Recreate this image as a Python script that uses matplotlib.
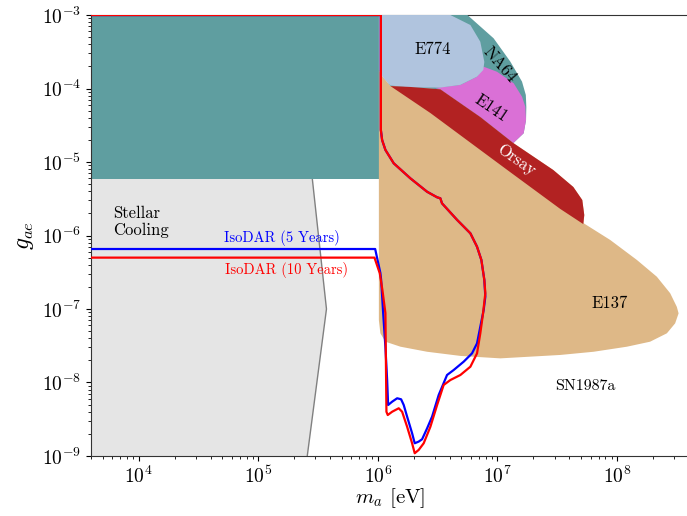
import matplotlib
matplotlib.use("Agg")
import matplotlib.pyplot as plt
from matplotlib.ticker import NullFormatter

plt.rcParams["font.family"] = "cmr10"
plt.rcParams["mathtext.fontset"] = "cm"
plt.rcParams["axes.formatter.use_mathtext"] = True

XMIN, XMAX = 4e3, 4e8
YMIN, YMAX = 1e-9, 1e-3

# ---- existing limits (axion mass in eV, coupling g_ae) ----
beamdump_m = [XMIN, 1.02e6, 1.02e6, XMIN]
beamdump_g = [5.87e-6, 5.87e-6, YMAX, YMAX]

stellar_m = [XMIN, 2.57e5, 3.72e5, 2.83e5, 2.80e5, XMIN]
stellar_g = [YMIN, YMIN, 1.0e-7, 6.0e-6, 8.0e-6, 8.0e-6]
stellar_edge_m = [2.57e5, 3.72e5, 2.83e5]
stellar_edge_g = [YMIN, 1.0e-7, 6.0e-6]

e137_m = [1.02e6, 1.10e6, 1.274e6, 1.87e6, 3.33e6, 7.19e6, 1.358e7, 2.93e7,
          4.31e7, 5.12e7, 5.32e7, 5.25e7, 8.77e7, 1.467e8, 2.15e8, 2.78e8,
          3.16e8, 3.27e8, 3.06e8, 2.61e8, 1.89e8, 1.21e8, 6.37e7, 3.35e7,
          1.057e7, 4.90e6, 2.58e6, 1.545e6, 1.157e6, 1.05e6, 1.02e6]
e137_g = [1.79e-4, 1.45e-4, 1.08e-4, 1.05e-4, 9.75e-5, 4.09e-5, 1.81e-5, 7.78e-6,
          4.57e-6, 3.04e-6, 1.90e-6, 1.47e-6, 8.69e-7, 4.64e-7, 2.75e-7, 1.64e-7,
          1.07e-7, 8.73e-8, 6.38e-8, 4.67e-8, 3.59e-8, 3.07e-8, 2.62e-8, 2.37e-8,
          2.13e-8, 2.30e-8, 2.62e-8, 3.07e-8, 3.59e-8, 4.67e-8, 7.08e-8]

na64_m = [1.02e6, 4.04e6, 5.61e6, 9.29e6, 1.282e7, 1.605e7, 1.727e7, 1.744e7,
          1.734e7, 1.656e7, 1.358e7, 7.19e6, 3.33e6, 1.274e6, 1.02e6]
na64_g = [YMAX, YMAX, YMAX, 4.82e-4, 2.32e-4, 1.24e-4, 8.16e-5, 5.60e-5,
          3.73e-5, 2.46e-5, 1.81e-5, 4.09e-5, 9.75e-5, 1.08e-4, 1.79e-4]

e141_m = [3.33e6, 7.19e6, 1.358e7, 1.656e7, 1.734e7, 1.71e7, 1.605e7, 1.366e7,
          9.92e6, 7.67e6, 6.75e6, 4.90e6, 3.0e6]
e141_g = [9.75e-5, 4.09e-5, 1.81e-5, 2.46e-5, 3.73e-5, 5.65e-5, 7.73e-5, 1.18e-4,
          1.69e-4, 1.98e-4, 1.45e-4, 1.12e-4, 1.02e-4]

e774_m = [1.02e6, 4.04e6, 5.94e6, 7.19e6, 7.77e6, 7.62e6, 6.75e6, 4.90e6,
          3.33e6, 1.87e6, 1.274e6, 1.114e6, 1.02e6]
e774_g = [YMAX, YMAX, 7.31e-4, 4.33e-4, 2.30e-4, 1.79e-4, 1.45e-4, 1.12e-4,
          1.03e-4, 1.03e-4, 1.10e-4, 1.39e-4, 1.79e-4]

orsay_m = [1.274e6, 1.87e6, 3.33e6, 7.19e6, 1.358e7, 2.93e7, 4.31e7, 5.12e7,
           5.32e7, 5.22e7, 3.35e7, 1.21e7, 2.75e6]
orsay_g = [1.08e-4, 1.05e-4, 9.75e-5, 4.09e-5, 1.81e-5, 7.78e-6, 4.57e-6, 3.04e-6,
           1.90e-6, 1.43e-6, 2.30e-6, 7.78e-6, 4.64e-5]

# ---- IsoDAR projected sensitivity ----
iso5_m = [XMIN, 9.5e5, 1.05e6, 1.066e6, 1.108e6, 1.157e6, 1.196e6, 1.219e6,
          1.317e6, 1.45e6, 1.565e6, 1.646e6, 1.757e6, 1.934e6, 2.034e6, 2.196e6,
          2.345e6, 2.582e6, 2.842e6, 3.227e6, 3.79e6, 4.31e6, 5.22e6, 6.13e6,
          6.75e6, 7.19e6, 7.67e6, 7.92e6, 7.77e6, 7.34e6, 6.75e6, 5.94e6,
          4.60e6, 3.44e6, 3.33e6, 3.13e6, 2.58e6, 1.87e6, 1.358e6, 1.157e6,
          1.086e6, 1.06e6, 1.06e6, XMIN]
iso5_g = [6.55e-7, 6.55e-7, 3.09e-7, 2.48e-7, 8.8e-8, 3.04e-8, 1.08e-8, 4.94e-9,
          5.48e-9, 6.10e-9, 5.91e-9, 4.94e-9, 3.43e-9, 2.04e-9, 1.49e-9, 1.57e-9,
          1.69e-9, 2.38e-9, 3.43e-9, 6.76e-9, 1.265e-8, 1.48e-8, 1.92e-8, 2.49e-8,
          3.41e-8, 5.74e-8, 9.68e-8, 1.47e-7, 2.48e-7, 4.64e-7, 7.04e-7, 1.07e-6,
          1.63e-6, 2.74e-6, 3.21e-6, 3.31e-6, 3.94e-6, 6.0e-6, 9.6e-6, 1.46e-5,
          1.99e-5, 2.72e-5, YMAX, YMAX]

iso10_m = [XMIN, 9.37e5, 1.038e6, 1.092e6, 1.157e6, 1.18e6, 1.21e6, 1.317e6,
           1.495e6, 1.596e6, 1.757e6, 1.934e6, 2.034e6, 2.196e6, 2.418e6, 2.75e6,
           3.13e6, 3.55e6, 4.04e6, 4.90e6, 5.94e6, 6.75e6, 7.19e6, 7.58e6,
           7.92e6, 7.77e6, 7.34e6, 6.75e6, 5.94e6, 4.60e6, 3.44e6, 3.33e6,
           3.13e6, 2.58e6, 1.87e6, 1.358e6, 1.157e6, 1.086e6, 1.06e6, 1.06e6, XMIN]
iso10_g = [5.0e-7, 5.0e-7, 3.06e-7, 1.81e-7, 8.8e-8, 4.0e-9, 3.61e-9, 4.0e-9,
           4.46e-9, 4.0e-9, 2.5e-9, 1.49e-9, 1.09e-9, 1.21e-9, 1.49e-9, 2.5e-9,
           4.94e-9, 9.25e-9, 1.08e-8, 1.265e-8, 1.64e-8, 2.49e-8, 4.67e-8, 8.73e-8,
           1.64e-7, 2.48e-7, 4.64e-7, 7.04e-7, 1.07e-6, 1.63e-6, 2.74e-6, 3.21e-6,
           3.31e-6, 3.94e-6, 6.0e-6, 9.6e-6, 1.46e-5, 1.99e-5, 2.72e-5, YMAX, YMAX]

fig = plt.figure(figsize=(6.87, 5.16), dpi=100)
ax = fig.add_axes([0.1325, 0.1163, 0.8705, 0.8546])
ax.set_xscale("log")
ax.set_yscale("log")
ax.set_xlim(XMIN, XMAX)
ax.set_ylim(YMIN, YMAX)

ax.fill(stellar_m, stellar_g, color="#e5e5e5", lw=0, zorder=1)
ax.plot(stellar_edge_m, stellar_edge_g, color="#808080", lw=1.0, zorder=1.5)
ax.fill(beamdump_m, beamdump_g, color="#5f9ea0", lw=0, zorder=2)
ax.fill(e137_m, e137_g, color="#deb887", lw=0, zorder=2)
ax.fill(na64_m, na64_g, color="#5f9ea0", lw=0, zorder=3)
ax.fill(e141_m, e141_g, color="#da70d6", lw=0, zorder=4)
ax.fill(e774_m, e774_g, color="#b0c4de", lw=0, zorder=5)
ax.fill(orsay_m, orsay_g, color="#b22222", lw=0, zorder=6)

ax.plot(iso5_m, iso5_g, color="blue", lw=1.6, zorder=10)
ax.plot(iso10_m, iso10_g, color="red", lw=1.6, zorder=11)

ax.text(6.07e3, 1.53e-6, "Stellar\nCooling", fontsize=12, ha="left",
        va="center", linespacing=1.1, zorder=12)
ax.text(1.565e5, 9.25e-7, "IsoDAR (5 Years)", fontsize=10.5, color="blue",
        ha="center", va="center", zorder=12)
ax.text(1.723e5, 3.4e-7, "IsoDAR (10 Years)", fontsize=10.5, color="red",
        ha="center", va="center", zorder=12)
ax.text(2.89e6, 3.45e-4, "E774", fontsize=12, ha="center", va="center", zorder=12)
ax.text(1.037e7, 2.09e-4, "NA64", fontsize=12, ha="center", va="center",
        rotation=-49, rotation_mode="anchor", zorder=12)
ax.text(8.84e6, 5.37e-5, "E141", fontsize=12, ha="center", va="center",
        rotation=-34, rotation_mode="anchor", zorder=12)
ax.text(1.43e7, 1.06e-5, "Orsay", fontsize=12, color="white", ha="center",
        va="center", rotation=-35, rotation_mode="anchor", zorder=12)
ax.text(8.61e7, 1.21e-7, "E137", fontsize=12, ha="center", va="center", zorder=12)
ax.text(5.42e7, 8.96e-9, "SN1987a", fontsize=11.5, ha="center", va="center", zorder=12)

ax.set_xlabel(r"$m_a$ [eV]", fontsize=15, labelpad=-1)
ax.set_ylabel(r"$g_{ae}$", fontsize=17)
ax.tick_params(axis="both", which="major", labelsize=14)
ax.xaxis.set_minor_formatter(NullFormatter())
ax.yaxis.set_minor_formatter(NullFormatter())
for s in ax.spines.values():
    s.set_color("#333333")

fig.savefig("out.png", dpi=100)
